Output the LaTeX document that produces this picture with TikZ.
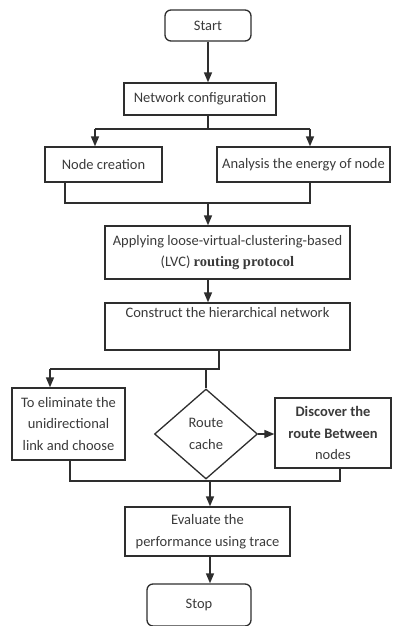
\documentclass[tikz,border=0pt]{standalone}
\usepackage{fontspec}
\setmainfont{Carlito}
\newfontfamily\serifb{Liberation Serif}
\usetikzlibrary{shapes.geometric,arrows.meta}
\definecolor{ln}{HTML}{2E2E2E}
\definecolor{tx}{HTML}{3A3A3A}
\begin{document}
\begin{tikzpicture}[x=1pt,y=-1pt,
  every node/.style={text=tx,font=\fontsize{14.5}{21.5}\selectfont,align=center,inner sep=0pt},
  box/.style={draw=ln,line width=1.3pt,rectangle},
  rbox/.style={box,rounded corners=6pt},
  dia/.style={draw=ln,line width=1.3pt,diamond,aspect=1.15},
  conn/.style={draw=ln,line width=1.5pt},
  arr/.style={conn,-{Triangle[width=8pt,length=10pt]}}]
\useasboundingbox (0,0) rectangle (393,626);
\node[rbox,minimum width=86pt,minimum height=31pt] (start) at (208,25.5) {Start};
\node[box,minimum width=152pt,minimum height=32pt] (net) at (200,99) {Network configuration};
\node[box,minimum width=117pt,minimum height=35pt] (nodec) at (103.5,164.5) {Node creation};
\node[box,minimum width=173pt,minimum height=35pt] (anal) at (303.5,164.5) {Analysis the energy of node};
\node[box,minimum width=245pt,minimum height=53pt] (apply) at (227.5,252.5) {Applying loose-virtual-clustering-based\\(LVC) {\serifb\bfseries routing protocol}};
\node[box,minimum width=245pt,minimum height=47pt] (cons) at (227.5,326.5) {Construct the hierarchical network\\\strut};
\node[box,minimum width=113pt,minimum height=72pt] (elim) at (68.5,424) {To eliminate the\\unidirectional\\link and choose};
\node[dia,minimum width=103pt,minimum height=90pt] (route) at (206,434) {Route\\cache};
\node[box,minimum width=116pt,minimum height=70pt] (disc) at (333,433) {\bfseries Discover the\\\bfseries route Between\\nodes};
\node[box,minimum width=165pt,minimum height=49pt] (eval) at (207.5,531.5) {Evaluate the\\performance using trace};
\node[rbox,minimum width=104pt,minimum height=42pt] (stop) at (199,605) {Stop};
% coordinates
\coordinate (s1) at (208,129);
\coordinate (s1l) at (95,129);
\coordinate (s1r) at (310,129);
\coordinate (m1) at (208,203);
\coordinate (m1l) at (65,203);
\coordinate (m1r) at (310,203);
\coordinate (s2) at (219,369);
\coordinate (s2l) at (50,369);
\coordinate (s2m) at (206,369);
\coordinate (m2) at (210,481);
\coordinate (m2l) at (70,481);
\coordinate (m2r) at (340,481);
% connectors
\draw[arr] (start.south) -- (start.south |- net.north);
\draw[conn] (s1 |- net.south) -- (s1);
\draw[conn] (s1l) -- (s1r);
\draw[arr] (s1l) -- (s1l |- nodec.north);
\draw[arr] (s1r) -- (s1r |- anal.north);
\draw[conn] (m1l |- nodec.south) -- (m1l) -- (m1r) -- (m1r |- anal.south);
\draw[arr] (m1) -- (m1 |- apply.north);
\draw[arr] (m1 |- apply.south) -- (m1 |- cons.north);
\draw[conn] (s2 |- cons.south) -- (s2) -- (s2l);
\draw[arr] (s2l) -- (s2l |- elim.north);
\draw[conn] (s2m) -- (route.north);
\draw[arr] (route.east) -- (route.east -| disc.west);
\draw[conn] (m2l |- elim.south) -- (m2l) -- (m2r) -- (m2r |- disc.south);
\draw[arr] (m2) -- (m2 |- eval.north);
\draw[arr] (m2 |- eval.south) -- (m2 |- stop.north);
\end{tikzpicture}
\end{document}
